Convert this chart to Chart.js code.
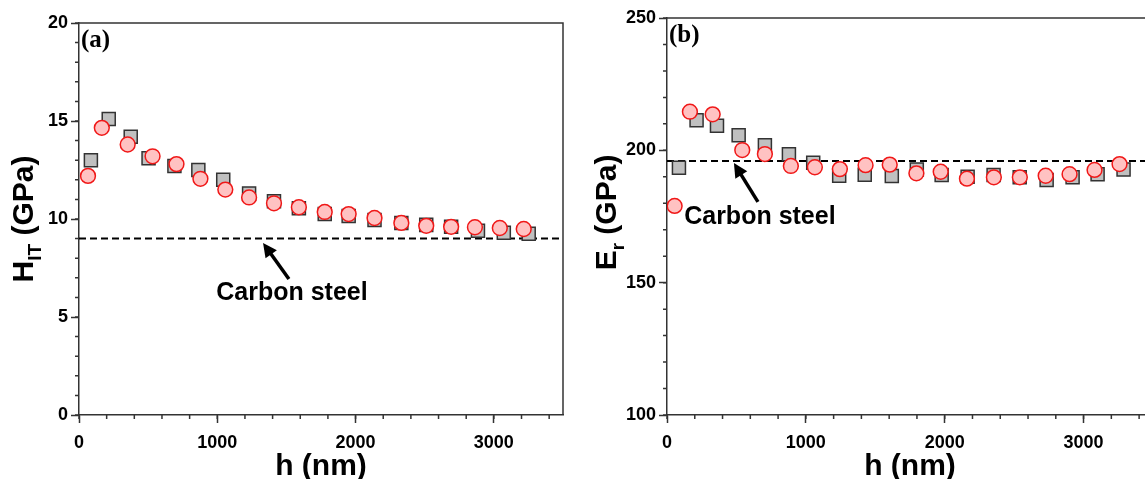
<!DOCTYPE html>
<html>
<head>
<meta charset="utf-8">
<script src="https://cdn.jsdelivr.net/npm/chart.js@4.4.1/dist/chart.umd.min.js"></script>
<style>
  html, body { margin: 0; padding: 0; background: #fff; overflow: hidden; }
  #wrap { position: relative; width: 1145px; height: 479px; overflow: hidden; }
  canvas { position: absolute; top: 0; }
  #chart-a { left: 0; }
  #chart-b { left: 588px; }
</style>
</head>
<body>
<div id="wrap">
  <canvas id="chart-a" width="590" height="479"></canvas>
  <canvas id="chart-b" width="592" height="479"></canvas>
</div>
<script>
// Axis ticks
const X_TICKS = [0, 1000, 2000, 3000];
const Y_TICKS_A = [0, 5, 10, 15, 20];
const Y_TICKS_B = [100, 150, 200, 250];

// (a) hardness, grey squares
const H_SQ_A = [86, 215, 374, 503, 690, 863, 1043, 1230, 1410, 1590, 1777, 1950, 2137, 2331, 2511, 2691, 2885, 3072, 3252];
const HIT_SQ = [13.0, 15.1, 14.2, 13.1, 12.7, 12.5, 12.0, 11.3, 10.9, 10.55, 10.25, 10.15, 9.95, 9.8, 9.7, 9.6, 9.4, 9.3, 9.25];
// (a) hardness, red circles
const H_CI_A = [65, 165, 352, 532, 705, 878, 1058, 1230, 1410, 1590, 1777, 1950, 2137, 2331, 2511, 2691, 2863, 3043, 3216];
const HIT_CI = [12.2, 14.65, 13.8, 13.2, 12.8, 12.05, 11.5, 11.1, 10.8, 10.6, 10.36, 10.25, 10.05, 9.8, 9.65, 9.6, 9.58, 9.54, 9.49];

// (b) reduced modulus, grey squares
const H_SQ_B = [86, 213, 360, 516, 705, 878, 1053, 1240, 1424, 1619, 1799, 1978, 2165, 2352, 2540, 2734, 2921, 3101, 3288];
const ER_SQ = [193.4, 211.4, 209.3, 205.7, 201.9, 198.5, 195.3, 190.4, 190.8, 190.3, 192.8, 190.7, 190.0, 190.7, 189.8, 188.8, 189.8, 191.0, 192.8];
// (b) reduced modulus, red circles
const H_CI_B = [55, 165, 329, 542, 705, 892, 1065, 1245, 1430, 1604, 1796, 1971, 2160, 2354, 2541, 2727, 2899, 3079, 3259];
const ER_CI = [179.0, 214.6, 213.6, 200.1, 198.6, 194.1, 193.6, 192.9, 194.4, 194.6, 191.3, 191.9, 189.3, 189.8, 189.8, 190.4, 191.0, 192.6, 194.8];

// Carbon steel reference levels
const STEEL_HIT = 9.0;
const STEEL_ER = 196;

const AXIS_COLOR = '#333';
const SANS = '"Liberation Sans", Arial, sans-serif';

const toPoints = (xs, ys) => xs.map((x, i) => ({ x, y: ys[i] }));

/** Frame, minor ticks, panel letter, y title with subscript, arrow note. */
const decorPlugin = {
  id: 'decor',
  afterDraw(chart, args, opts) {
    const { ctx, chartArea: a, scales: { x, y } } = chart;
    ctx.save();
    ctx.strokeStyle = AXIS_COLOR;
    ctx.lineWidth = 1.5;
    ctx.beginPath();
    ctx.moveTo(a.left, a.top);
    ctx.lineTo(a.right, a.top);
    ctx.lineTo(a.right, a.bottom);
    ctx.stroke();

    // minor ticks
    ctx.beginPath();
    for (let v = x.min; v <= x.max; v += opts.xMinor) {
      const px = x.getPixelForValue(v);
      ctx.moveTo(px, a.bottom);
      ctx.lineTo(px, a.bottom + 4);
    }
    for (let v = y.min; v <= y.max; v += opts.yMinor) {
      const py = y.getPixelForValue(v);
      ctx.moveTo(a.left, py);
      ctx.lineTo(a.left - 4, py);
    }
    ctx.stroke();

    // panel letter
    ctx.fillStyle = '#000';
    ctx.font = 'bold 25px "Liberation Serif", "Times New Roman", serif';
    ctx.textBaseline = 'top';
    ctx.textAlign = 'left';
    ctx.fillText(opts.letter, a.left + 2, a.top + opts.letterDy);

    // y axis title with subscript
    const big = 'bold 30px ' + SANS;
    const small = 'bold 19px ' + SANS;
    ctx.font = big;
    const w1 = ctx.measureText(opts.yMain).width;
    const w3 = ctx.measureText(opts.yRest).width;
    ctx.font = small;
    const w2 = ctx.measureText(opts.ySub).width;
    const total = w1 + w2 + w3;
    ctx.translate(a.left - opts.titleDx, (a.top + a.bottom) / 2 + opts.titleDy);
    ctx.rotate(-Math.PI / 2);
    ctx.textBaseline = 'alphabetic';
    ctx.font = big;
    ctx.fillText(opts.yMain, -total / 2, 0);
    ctx.font = small;
    ctx.fillText(opts.ySub, -total / 2 + w1, 8);
    ctx.font = big;
    ctx.fillText(opts.yRest, -total / 2 + w1 + w2, 0);
    ctx.restore();

    // "Carbon steel" note and arrow
    const n = opts.note;
    const tx = x.getPixelForValue(n.tail[0]), ty = y.getPixelForValue(n.tail[1]);
    const hx = x.getPixelForValue(n.tip[0]), hy = y.getPixelForValue(n.tip[1]);
    const ang = Math.atan2(hy - ty, hx - tx);
    const headLen = 14, headW = 7;
    ctx.save();
    ctx.strokeStyle = '#000';
    ctx.fillStyle = '#000';
    ctx.lineWidth = 3.5;
    ctx.beginPath();
    ctx.moveTo(tx, ty);
    ctx.lineTo(hx - Math.cos(ang) * headLen * 0.8, hy - Math.sin(ang) * headLen * 0.8);
    ctx.stroke();
    ctx.beginPath();
    ctx.moveTo(hx, hy);
    ctx.lineTo(hx - Math.cos(ang) * headLen - Math.sin(ang) * headW, hy - Math.sin(ang) * headLen + Math.cos(ang) * headW);
    ctx.lineTo(hx - Math.cos(ang) * headLen + Math.sin(ang) * headW, hy - Math.sin(ang) * headLen - Math.cos(ang) * headW);
    ctx.closePath();
    ctx.fill();
    ctx.font = 'bold 25px ' + SANS;
    ctx.textAlign = 'center';
    ctx.textBaseline = 'middle';
    ctx.fillText(n.text, x.getPixelForValue(n.label[0]), y.getPixelForValue(n.label[1]));
    ctx.restore();
  },
};

function scaleOptions(min, max, ticks, title, isX) {
  return {
    type: 'linear',
    min,
    max,
    afterBuildTicks: s => { s.ticks = ticks.map(v => ({ value: v })); },
    afterFit: s => { if (isX) s.height = 64; else s.width = 79; },
    ticks: {
      color: '#000',
      padding: isX ? 9 : 3,
      font: { family: SANS, size: 18, weight: 'bold' },
      callback: v => String(v),
    },
    grid: {
      drawOnChartArea: false,
      drawTicks: true,
      tickLength: 8,
      tickColor: AXIS_COLOR,
      tickWidth: 1.5,
    },
    border: { display: true, color: AXIS_COLOR, width: 1.5 },
    title: {
      display: !!title,
      text: title || '',
      color: '#000',
      padding: { top: 0, bottom: -3 },
      font: { family: SANS, size: 30, weight: 'bold', lineHeight: 1 },
    },
  };
}

function renderPanel(canvas, { squares, circles, steel, yMin, yMax, yTicks, top, decor }) {
  return new Chart(canvas, {
    type: 'scatter',
    data: {
      datasets: [
        {
          label: 'circles',
          data: circles,
          pointStyle: 'circle',
          pointRadius: 7.4,
          backgroundColor: '#ffc2c2',
          borderColor: '#f01818',
          borderWidth: 1.5,
          order: 0,
        },
        {
          label: 'squares',
          data: squares,
          pointStyle: 'rect',
          pointRadius: 9.2,
          backgroundColor: '#c0c0c0',
          borderColor: '#333',
          borderWidth: 1.5,
          order: 1,
        },
        {
          type: 'line',
          label: 'Carbon steel',
          data: [{ x: 0, y: steel }, { x: 3500, y: steel }],
          borderColor: '#000',
          borderWidth: 2,
          borderDash: [7, 4],
          pointRadius: 0,
          fill: false,
          order: 2,
        },
      ],
    },
    options: {
      responsive: false,
      animation: false,
      layout: { padding: { top, right: 27, left: 0, bottom: 0 } },
      plugins: {
        legend: { display: false },
        tooltip: { enabled: false },
        decor,
      },
      scales: {
        x: scaleOptions(0, 3500, X_TICKS, 'h (nm)', true),
        y: scaleOptions(yMin, yMax, yTicks, null, false),
      },
    },
    plugins: [decorPlugin],
  });
}

renderPanel(document.getElementById('chart-a'), {
  squares: toPoints(H_SQ_A, HIT_SQ),
  circles: toPoints(H_CI_A, HIT_CI),
  steel: STEEL_HIT,
  yMin: 0, yMax: 20, yTicks: Y_TICKS_A,
  top: 23,
  decor: {
    xMinor: 200, yMinor: 1, letter: '(a)', letterDy: 5,
    yMain: 'H', ySub: 'IT', yRest: ' (GPa)', titleDx: 46, titleDy: 0,
    note: { text: 'Carbon steel', tip: [1331, 8.78], tail: [1518, 6.94], label: [1540, 6.22] },
  },
});

renderPanel(document.getElementById('chart-b'), {
  squares: toPoints(H_SQ_B, ER_SQ),
  circles: toPoints(H_CI_B, ER_CI),
  steel: STEEL_ER,
  yMin: 100, yMax: 250, yTicks: Y_TICKS_B,
  top: 18,
  decor: {
    xMinor: 200, yMinor: 10, letter: '(b)', letterDy: 5,
    yMain: 'E', ySub: 'r', yRest: ' (GPa)', titleDx: 51, titleDy: -4,
    note: { text: 'Carbon steel', tip: [482, 195.2], tail: [655, 180.5], label: [669, 174.8] },
  },
});
</script>
</body>
</html>
